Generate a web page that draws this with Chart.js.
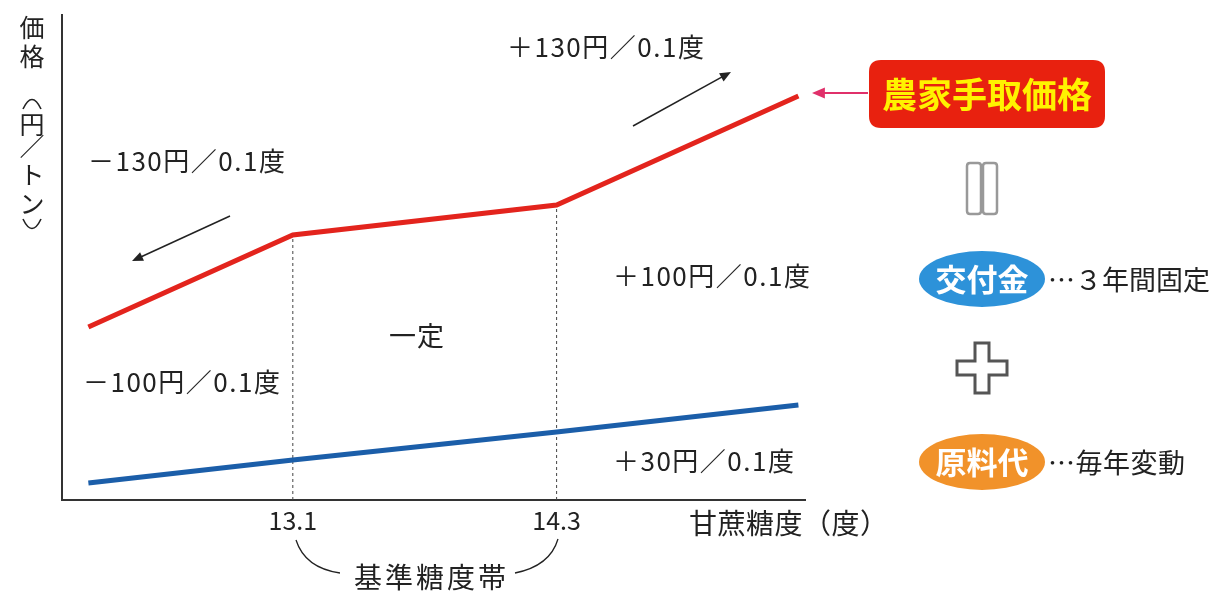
<!DOCTYPE html>
<html>
<head>
<meta charset="utf-8">
<script src="https://cdn.jsdelivr.net/npm/chart.js@4/dist/chart.umd.min.js"></script>
<style>
  html, body { margin: 0; padding: 0; background: #fff; }
  #c { display: block; }
</style>
</head>
<body>
<canvas id="c" width="1220" height="592"></canvas>
<script>
'use strict';

var FONT = '"Noto Sans CJK JP", "Noto Sans", sans-serif';

// sugar content (degrees) along the x axis
var sugarContent = [12.17, 13.1, 14.3, 15.4];
// farmer's price (arbitrary units)
var farmerPrice = [173, 265, 295, 404];
// raw material cost part
var materialCost = [17, 40, 68, 95];
// only these two ticks are labelled
var tickValues = [13.1, 14.3];

function toPoints(xs, ys) {
  var pts = [];
  for (var i = 0; i < xs.length; i++) {
    pts.push({ x: xs[i], y: ys[i] });
  }
  return pts;
}

function arrow(ctx, x1, y1, x2, y2, color, width, head) {
  var a = Math.atan2(y2 - y1, x2 - x1);
  ctx.save();
  ctx.strokeStyle = color;
  ctx.fillStyle = color;
  ctx.lineWidth = width;
  ctx.beginPath();
  ctx.moveTo(x1, y1);
  ctx.lineTo(x2 - Math.cos(a) * head * 0.8, y2 - Math.sin(a) * head * 0.8);
  ctx.stroke();
  ctx.beginPath();
  ctx.moveTo(x2, y2);
  ctx.lineTo(x2 - head * Math.cos(a - 0.4), y2 - head * Math.sin(a - 0.4));
  ctx.lineTo(x2 - head * Math.cos(a + 0.4), y2 - head * Math.sin(a + 0.4));
  ctx.closePath();
  ctx.fill();
  ctx.restore();
}

function roundRect(ctx, x, y, w, h, r) {
  ctx.beginPath();
  ctx.moveTo(x + r, y);
  ctx.lineTo(x + w - r, y);
  ctx.quadraticCurveTo(x + w, y, x + w, y + r);
  ctx.lineTo(x + w, y + h - r);
  ctx.quadraticCurveTo(x + w, y + h, x + w - r, y + h);
  ctx.lineTo(x + r, y + h);
  ctx.quadraticCurveTo(x, y + h, x, y + h - r);
  ctx.lineTo(x, y + r);
  ctx.quadraticCurveTo(x, y, x + r, y);
  ctx.closePath();
}

function text(ctx, s, x, y, size, spacing) {
  ctx.font = size + 'px ' + FONT;
  ctx.letterSpacing = (spacing || 0) + 'px';
  ctx.fillText(s, x, y);
  ctx.letterSpacing = '0px';
}

var guides = {
  id: 'guides',
  beforeDatasetsDraw: function (chart) {
    var ctx = chart.ctx;
    var xs = chart.scales.x;
    var ys = chart.scales.y;
    ctx.save();
    ctx.strokeStyle = '#444';
    ctx.lineWidth = 1;
    ctx.setLineDash([3, 3]);
    for (var i = 0; i < tickValues.length; i++) {
      var idx = sugarContent.indexOf(tickValues[i]);
      var px = xs.getPixelForValue(tickValues[i]);
      ctx.beginPath();
      ctx.moveTo(px, ys.bottom);
      ctx.lineTo(px, ys.getPixelForValue(farmerPrice[idx]));
      ctx.stroke();
    }
    ctx.restore();
  }
};

var notes = {
  id: 'notes',
  afterDraw: function (chart) {
    var ctx = chart.ctx;
    ctx.save();
    ctx.fillStyle = '#222';
    ctx.strokeStyle = '#222';
    ctx.textBaseline = 'middle';

    // vertical y axis title
    var chars = ['価', '格', '円', '／', 'ト', 'ン'];
    var cy = [27, 56, 124, 146, 174, 203];
    ctx.font = '25px ' + FONT;
    ctx.textAlign = 'center';
    for (var i = 0; i < chars.length; i++) {
      ctx.fillText(chars[i], 32, cy[i]);
    }
    // vertical brackets
    ctx.lineWidth = 1.6;
    ctx.beginPath();
    ctx.moveTo(23, 109);
    ctx.quadraticCurveTo(32, 90, 41, 109);
    ctx.stroke();
    ctx.beginPath();
    ctx.moveTo(23, 219);
    ctx.quadraticCurveTo(32, 238, 41, 219);
    ctx.stroke();

    // slope notes
    ctx.textAlign = 'left';
    text(ctx, '－130円／0.1度', 88, 161, 26, 1.5);
    text(ctx, '＋130円／0.1度', 507, 47, 26, 1.5);
    text(ctx, '＋100円／0.1度', 613, 276, 26, 1.5);
    text(ctx, '－100円／0.1度', 83, 382, 26, 1.5);
    text(ctx, '＋30円／0.1度', 613, 461, 26, 1.5);
    text(ctx, '一定', 389, 336, 27, 1);

    text(ctx, '甘蔗糖度（度）', 689, 523, 28, 0.5);
    text(ctx, '基準糖度帯', 354, 577, 28, 3);

    // bracket curves under the ticks
    ctx.lineWidth = 1.3;
    ctx.beginPath();
    ctx.moveTo(296, 540);
    ctx.quadraticCurveTo(305, 568, 340, 573);
    ctx.stroke();
    ctx.beginPath();
    ctx.moveTo(558, 539);
    ctx.quadraticCurveTo(550, 566, 515, 573);
    ctx.stroke();

    // direction arrows
    arrow(ctx, 230, 216, 132, 261, '#222', 1.5, 12);
    arrow(ctx, 633, 126, 731, 72, '#222', 1.5, 12);

    // pink pointer to the label
    arrow(ctx, 868, 93, 812, 93, '#e0306a', 2, 14);

    // farmer price box
    ctx.fillStyle = '#e8210f';
    roundRect(ctx, 869, 60, 236, 68, 12);
    ctx.fill();
    ctx.fillStyle = '#fff200';
    ctx.font = 'bold 35px ' + FONT;
    ctx.textAlign = 'center';
    ctx.fillText('農家手取価格', 987, 95);

    // equals sign (two bars)
    ctx.strokeStyle = '#999';
    ctx.lineWidth = 2.5;
    roundRect(ctx, 967, 163, 14, 51, 3);
    ctx.stroke();
    roundRect(ctx, 983, 163, 14, 51, 3);
    ctx.stroke();

    // blue ellipse
    ctx.fillStyle = '#2d92d9';
    ctx.beginPath();
    ctx.ellipse(982, 279, 63, 28, 0, 0, Math.PI * 2);
    ctx.fill();
    ctx.fillStyle = '#fff';
    ctx.font = 'bold 31px ' + FONT;
    ctx.fillText('交付金', 982, 279);

    // plus outline
    ctx.strokeStyle = '#555';
    ctx.lineWidth = 3;
    ctx.beginPath();
    var px = 982, py = 368, a = 7, b = 25;
    ctx.moveTo(px - a, py - b);
    ctx.lineTo(px + a, py - b);
    ctx.lineTo(px + a, py - a);
    ctx.lineTo(px + b, py - a);
    ctx.lineTo(px + b, py + a);
    ctx.lineTo(px + a, py + a);
    ctx.lineTo(px + a, py + b);
    ctx.lineTo(px - a, py + b);
    ctx.lineTo(px - a, py + a);
    ctx.lineTo(px - b, py + a);
    ctx.lineTo(px - b, py - a);
    ctx.lineTo(px - a, py - a);
    ctx.closePath();
    ctx.stroke();

    // orange ellipse
    ctx.fillStyle = '#f1922a';
    ctx.beginPath();
    ctx.ellipse(982, 462, 63, 28, 0, 0, Math.PI * 2);
    ctx.fill();
    ctx.fillStyle = '#fff';
    ctx.fillText('原料代', 982, 462);

    ctx.fillStyle = '#222';
    ctx.textAlign = 'left';
    text(ctx, '…３年間固定', 1048, 280, 27, 0);
    text(ctx, '…毎年変動', 1048, 463, 27, 0.5);

    ctx.restore();
  }
};

var ctx = document.getElementById('c').getContext('2d');

new Chart(ctx, {
  type: 'line',
  data: {
    datasets: [
      {
        label: '農家手取価格',
        data: toPoints(sugarContent, farmerPrice),
        borderColor: '#e3241d',
        borderWidth: 5,
        pointRadius: 0,
        tension: 0
      },
      {
        label: '原料代',
        data: toPoints(sugarContent, materialCost),
        borderColor: '#1b5ea9',
        borderWidth: 5,
        pointRadius: 0,
        tension: 0
      }
    ]
  },
  options: {
    responsive: false,
    animation: false,
    devicePixelRatio: 1,
    layout: { padding: { left: 54, right: 415, top: 15, bottom: 52 } },
    plugins: {
      legend: { display: false },
      tooltip: { enabled: false }
    },
    scales: {
      x: {
        type: 'linear',
        min: 12.05,
        max: 15.43,
        afterBuildTicks: function (axis) {
          axis.ticks = tickValues.map(function (v) { return { value: v }; });
        },
        afterFit: function (axis) {
          axis.height = 40;
        },
        ticks: {
          autoSkip: false,
          maxRotation: 0,
          padding: 0,
          color: '#222',
          font: { family: FONT, size: 25, lineHeight: 1 },
          callback: function (v) { return v.toFixed(1); }
        },
        grid: { display: false },
        border: { display: true, color: '#333', width: 2 }
      },
      y: {
        min: 0,
        max: 485,
        ticks: { display: false },
        grid: { display: false },
        border: { display: true, color: '#333', width: 2 }
      }
    }
  },
  plugins: [guides, notes]
});
</script>
</body>
</html>
